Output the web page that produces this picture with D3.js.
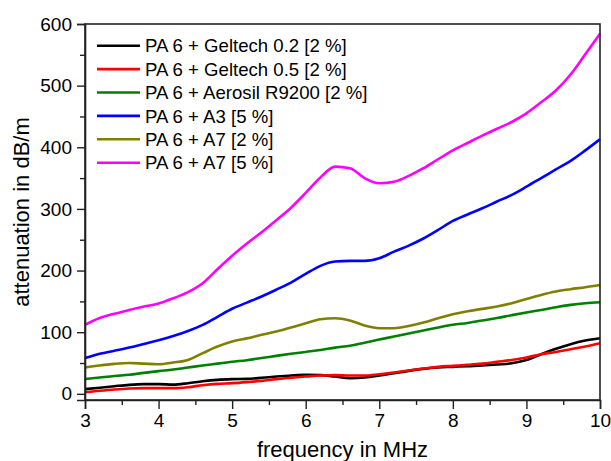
<!DOCTYPE html>
<html>
<head>
<meta charset="utf-8">
<script src="https://cdn.jsdelivr.net/npm/d3@7"></script>
<style>
  body { margin: 0; background: #fff; }
  svg text { font-family: "Liberation Sans", Arial, sans-serif; fill: #000; }
</style>
</head>
<body>
<svg id="chart" width="611" height="461"></svg>
<script>
var width = 611;
var height = 461;

// frequency in MHz, 0.2 MHz steps
var freq = d3.range(0, 36).map(function(i) { return 3 + i * 0.2; });

var names = [
  "PA 6 + Geltech 0.2 [2 %]",
  "PA 6 + Geltech 0.5 [2 %]",
  "PA 6 + Aerosil R9200 [2 %]",
  "PA 6 + A3 [5 %]",
  "PA 6 + A7 [2 %]",
  "PA 6 + A7 [5 %]"
];
var colors = ["#000000", "#ff0000", "#008000", "#0000ff", "#808000", "#ff00ff"];

var geltech02 = [7.6, 10, 12.4, 14.6, 15.7, 15.7, 15, 17.3, 20.5, 22.7, 23.8, 24.3, 26, 28, 29.7, 30.8, 30.3, 28,
  25.4, 26.5, 29.7, 33.5, 37.3, 40.5, 42.7, 43.8, 45, 46, 47.6, 49.7, 55, 64.3, 73, 80.6, 86.5, 90.3];
var geltech05 = [2.5, 4.9, 7, 8.6, 9.2, 9.2, 9.2, 10.8, 14, 16.2, 17.3, 19, 21, 23.8, 26, 28, 29.7, 30.3,
  29.7, 29.7, 31.9, 34.5, 37.8, 41, 43.8, 45.4, 47, 49, 52, 55, 59, 64.3, 68, 72.4, 76.7, 82];
var aerosil = [24, 26.5, 29, 31, 34, 36.8, 39.4, 42.7, 46, 49, 52, 54.6, 58, 61.6, 65, 68, 71, 75,
  78, 83, 88, 93, 97.8, 102.7, 107.5, 112, 115, 119, 123, 127.6, 132, 136, 140.6, 144.3, 147, 148.7];
var a3_5 = [58, 65, 70, 75, 81, 87, 94, 102, 112, 125, 138, 148, 158, 169, 180.5, 194.6, 207.6, 214.6,
  215.7, 215.7, 220, 230.7, 240.5, 252, 266, 280.5, 291, 301, 312, 322.7, 336, 350, 364, 378, 395, 413];
var a7_2 = [42.7, 46, 48.6, 50, 49, 48, 50.8, 55, 66, 76.7, 85, 90, 95.7, 101, 107.5, 114.6, 121, 122.7,
  119, 110.8, 106.5, 106.5, 110, 115.6, 122.7, 129, 134, 137.8, 141.6, 147, 154, 160.5, 166, 169.8, 173, 176.7];
var a7_5 = [112, 123, 130, 136, 141.6, 146.5, 155, 165, 179.5, 202, 224, 244, 262, 281.6, 302, 326, 351, 368.6,
  366, 350, 341.6, 344, 353.5, 366, 380.6, 395, 407, 419, 430, 441, 455, 473, 492, 518, 551, 584];

var series = [geltech02, geltech05, aerosil, a3_5, a7_2, a7_5];

var xTicks = [3, 4, 5, 6, 7, 8, 9, 10];
var yTicks = [0, 100, 200, 300, 400, 500, 600];

var margin = { left: 85, right: 11, top: 24, bottom: 61 };

var svg = d3.select("#chart");

var x = d3.scaleLinear().domain([3, 10]).range([margin.left, width - margin.right]);
var y = d3.scaleLinear().domain([-10, 600]).range([height - margin.bottom, margin.top]);

var line = d3.line()
  .x(function(d, i) { return x(freq[i]); })
  .y(function(d) { return y(d); })
  .curve(d3.curveMonotoneX);

// curves
svg.append("g")
  .selectAll("path")
  .data(series)
  .enter()
  .append("path")
  .attr("d", line)
  .attr("fill", "none")
  .attr("stroke", function(d, i) { return colors[i]; })
  .attr("stroke-width", 2.6)
  .attr("stroke-linejoin", "round");

// frame
svg.append("rect")
  .attr("x", x(3)).attr("y", y(600))
  .attr("width", x(10) - x(3)).attr("height", y(-10) - y(600))
  .attr("fill", "none").attr("stroke", "#222").attr("stroke-width", 1.6);

// x axis
svg.append("g")
  .attr("transform", "translate(0," + y(-10) + ")")
  .call(d3.axisBottom(x).tickValues(xTicks).tickFormat(d3.format("d")).tickSize(9).tickPadding(5));
svg.append("g")
  .attr("transform", "translate(0," + y(-10) + ")")
  .call(d3.axisBottom(x).tickValues(d3.range(3.5, 10, 1)).tickFormat("").tickSize(5))
  .call(function(g) { g.select(".domain").remove(); });

// y axis
svg.append("g")
  .attr("transform", "translate(" + x(3) + ",0)")
  .call(d3.axisLeft(y).tickValues(yTicks).tickSize(8).tickPadding(5));
svg.append("g")
  .attr("transform", "translate(" + x(3) + ",0)")
  .call(d3.axisLeft(y).tickValues(d3.range(50, 600, 100)).tickFormat("").tickSize(5))
  .call(function(g) { g.select(".domain").remove(); });

svg.selectAll(".domain").attr("stroke", "#222").attr("stroke-width", 1.6);
svg.selectAll(".tick line").attr("stroke", "#222").attr("stroke-width", 1.4);
svg.selectAll(".tick text").style("font-size", "19px").attr("fill", "#000");

// axis titles
svg.append("text")
  .attr("x", (x(3) + x(10)) / 2)
  .attr("y", 457)
  .attr("text-anchor", "middle")
  .style("font-size", "22px")
  .text("frequency in MHz");

svg.append("text")
  .attr("transform", "rotate(-90)")
  .attr("x", -(y(600) + y(-10)) / 2)
  .attr("y", 29)
  .attr("text-anchor", "middle")
  .style("font-size", "22px")
  .text("attenuation in dB/m");

// legend
var legend = svg.append("g")
  .selectAll("g")
  .data(names)
  .enter()
  .append("g")
  .attr("transform", function(d, i) { return "translate(97," + (45.7 + i * 23.4) + ")"; });

legend.append("line")
  .attr("x1", 0).attr("x2", 43)
  .attr("stroke", function(d, i) { return colors[i]; })
  .attr("stroke-width", 2.6);

legend.append("text")
  .attr("x", 48)
  .attr("dy", "0.36em")
  .style("font-size", "18.6px")
  .text(function(d) { return d; });
</script>
</body>
</html>
